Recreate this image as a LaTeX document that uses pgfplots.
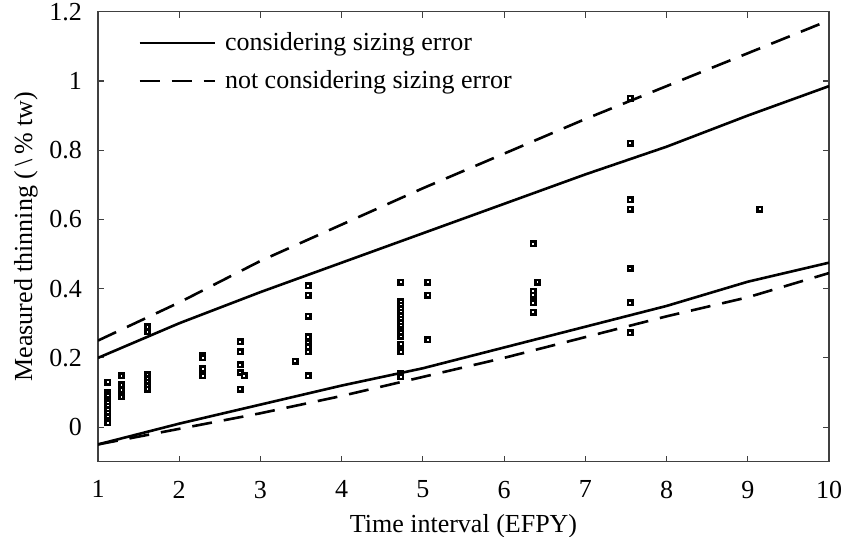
\documentclass[border=0pt]{standalone}
\usepackage{fontspec}
\setmainfont{Liberation Serif}
\usepackage{pgfplots}
\pgfplotsset{compat=1.18}
\pgfplotstableread{
x y
1.12 0.13
1.12 0.10
1.12 0.09
1.12 0.08
1.12 0.07
1.12 0.06
1.12 0.05
1.12 0.04
1.12 0.03
1.12 0.02
1.12 0.012
1.29 0.148
1.29 0.122
1.29 0.107
1.29 0.088
1.61 0.151
1.61 0.14
1.61 0.13
1.61 0.12
1.61 0.11
1.61 0.29
1.61 0.275
2.29 0.208
2.29 0.20
2.29 0.168
2.29 0.148
2.75 0.247
2.75 0.218
2.75 0.18
2.75 0.158
2.75 0.11
2.80 0.148
3.43 0.19
3.59 0.408
3.59 0.381
3.59 0.32
3.59 0.261
3.59 0.242
3.59 0.232
3.59 0.218
3.59 0.148
4.73 0.419
4.73 0.362
4.73 0.352
4.73 0.342
4.73 0.332
4.73 0.322
4.73 0.312
4.73 0.302
4.73 0.292
4.73 0.282
4.73 0.272
4.73 0.262
4.73 0.24
4.73 0.218
4.73 0.155
4.73 0.145
5.06 0.419
5.06 0.381
5.06 0.252
6.36 0.53
6.36 0.393
6.36 0.381
6.36 0.359
6.36 0.332
6.41 0.419
7.55 0.95
7.55 0.82
7.55 0.657
7.55 0.630
7.55 0.458
7.55 0.359
7.55 0.272
9.15 0.63
}\measured
\begin{document}
\fontsize{13}{15.5}\selectfont
\begin{tikzpicture}
\begin{axis}[
  scale only axis, width=365.5pt, height=225pt,
  xmin=1, xmax=10, ymin=-0.1, ymax=1.2,
  xtick={1,2,3,4,5,6,7,8,9,10},
  ytick={0,0.2,0.4,0.6,0.8,1,1.2},
  tick align=inside, major tick length=3pt,
  axis line style={black!75, line width=0.6pt},
  tick style={black!75, line width=0.6pt},
  /pgf/number format/assume math mode=true,
  ticklabel style={font=\fontsize{13}{15.5}\selectfont},
  xticklabel style={yshift=-5pt},
  yticklabel style={xshift=-3.5pt},
  label style={font=\fontsize{13}{15.5}\selectfont},
  xlabel style={yshift=1pt},
  ylabel style={yshift=-3pt},
  xlabel={Time interval (EFPY)},
  ylabel={Measured thinning (\,\textbackslash\,\%~tw)},
  legend style={draw=none, fill=none, at={(rel axis cs:0,1)}, anchor=north west,
    xshift=17pt, yshift=-6pt, font=\fontsize{13}{15.5}\selectfont, row sep=4pt,
    /tikz/every odd column/.append style={column sep=2.5pt}},
  legend cell align=left,
  legend image code/.code={\draw[#1] (0pt,0pt) -- (37.5pt,0pt);},
]
\addplot[black, line width=1.3pt] coordinates {(1,0.2)(2,0.30)(3,0.39)(4,0.475)(5,0.56)(6,0.645)(7,0.73)(8,0.81)(9,0.90)(10,0.985)};
\addlegendentry{considering sizing error}
\addplot[black, line width=1.3pt, dash pattern=on 10pt off 6pt] coordinates {(1,0.25)(2,0.36)(3,0.48)(4,0.585)(5,0.69)(6,0.79)(7,0.89)(8,0.985)(9,1.08)(10,1.175)};
\addlegendentry{not considering sizing error}
\addplot[black, line width=1.3pt, forget plot] coordinates {(1,-0.05)(2,0.01)(3,0.065)(4,0.12)(5,0.17)(6,0.23)(7,0.29)(8,0.35)(9,0.42)(10,0.475)};
\addplot[black, line width=1.3pt, dash pattern=on 10pt off 6pt, forget plot] coordinates {(1,-0.05)(2,-0.005)(3,0.04)(4,0.09)(5,0.145)(6,0.2)(7,0.26)(8,0.32)(9,0.375)(10,0.445)};
\addplot[only marks, mark=square*, mark size=1.1pt, mark options={draw=black, fill=white, line width=1.3pt}, forget plot] table[x=x, y=y] {\measured};
\end{axis}
\pgfresetboundingbox
\path ([shift={(-49pt,-37.5pt)}]current axis.south west) rectangle ([shift={(7pt,5.85pt)}]current axis.north east);
\end{tikzpicture}
\end{document}
